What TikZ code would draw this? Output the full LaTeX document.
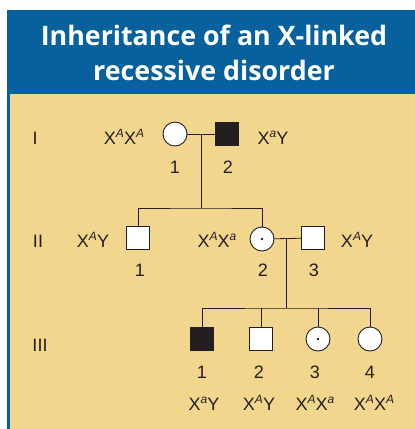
\documentclass[tikz,border=0pt]{standalone}
\usepackage{fontspec}
\setmainfont{Liberation Sans}
\newfontfamily\headfont{Open Sans}
\usepackage{xcolor}
\usepackage{tikz}
\usetikzlibrary{positioning, calc}
\definecolor{boxblue}{RGB}{8,96,156}
\definecolor{boxtan}{RGB}{243,214,142}
\definecolor{ink}{RGB}{35,31,32}
\newcommand{\allele}[1]{\raisebox{6.5pt}{\fontsize{12}{12}\selectfont\itshape #1}}

\begin{document}
\begin{tikzpicture}[x=1pt, y=-1pt, line width=0.9pt,
  male/.style={rectangle, draw=ink, fill=white, minimum size=23pt, inner sep=0pt},
  female/.style={circle, draw=ink, fill=white, minimum size=24pt, inner sep=0pt},
  ill/.style={fill=ink},
  carrier/.style={female, path picture={\fill[ink] (path picture bounding box.center) circle (1.4pt);}},
  lab/.style={anchor=base, font=\fontsize{18}{20}\selectfont, text=ink, inner sep=0pt},
  head/.style={anchor=base, text=white, font=\headfont\bfseries\fontsize{26.8}{30}\selectfont}]
  \useasboundingbox (0,0) rectangle (415,429);
  \fill[boxblue] (7,10) rectangle (415,429);
  \fill[boxtan] (10,94) rectangle (415,429);
  \node[head] (head1) at (214,45) {Inheritance of an X-linked};
  \node[head] (head2) at (214,80) {recessive disorder};
  % generation I
  \node[female] (I1) at (175,134) {};
  \node[male, ill] (I2) at (227,134) {};
  \node[lab] (gI) at (35,144) {I};
  \node[lab] (tI1) at (124,144) {X\allele{A}X\allele{A}};
  \node[lab] (tI2) at (273,144) {X\allele{a}Y};
  \node[lab] (nI1) at (175,173) {1};
  \node[lab] (nI2) at (228,173) {2};
  % generation II
  \node[male] (II1) at (138,238) {};
  \node[carrier] (II2) at (262,239) {};
  \node[male] (II3) at (313,238) {};
  \node[lab] (gII) at (38,247) {II};
  \node[lab] (tII1) at (93,247) {X\allele{A}Y};
  \node[lab] (tII2) at (217,247) {X\allele{A}X\allele{a}};
  \node[lab] (tII3) at (357,247) {X\allele{A}Y};
  \node[lab] (nII1) at (140,276) {1};
  \node[lab] (nII2) at (263,276) {2};
  \node[lab] (nII3) at (314,276) {3};
  % generation III
  \node[male, ill] (III1) at (202,339) {};
  \node[male] (III2) at (261,339) {};
  \node[carrier] (III3) at (318,339) {};
  \node[female] (III4) at (370,339) {};
  \node[lab] (gIII) at (40,351) {III};
  \node[lab] (nIII1) at (202,378) {1};
  \node[lab] (nIII2) at (259,378) {2};
  \node[lab] (nIII3) at (315,378) {3};
  \node[lab] (nIII4) at (370,378) {4};
  \node[lab] (tIII1) at (204,410) {X\allele{a}Y};
  \node[lab] (tIII2) at (259,410) {X\allele{A}Y};
  \node[lab] (tIII3) at (315,410) {X\allele{A}X\allele{a}};
  \node[lab] (tIII4) at (374,410) {X\allele{A}X\allele{A}};
  % lines
  \coordinate (m1) at ($(I1.east)!0.5!(I2.west)$);
  \coordinate (s1) at (m1 |- 0,208);
  \coordinate (m2) at (286,238);
  \coordinate (s2) at (286,308);
  \begin{scope}[draw=ink, line width=0.8pt]
    \draw (I1) -- (I2);
    \draw (m1) -- (s1);
    \draw (II1.north) |- (s1) -| (II2.north);
    \draw (II2) -- (II3);
    \draw (m2) -- (s2);
    \draw (III1.north) |- (s2) -| (III4.north);
    \draw (III2.north) -- (III2.north |- s2);
    \draw (III3.north) -- (III3.north |- s2);
  \end{scope}
\end{tikzpicture}
\end{document}
